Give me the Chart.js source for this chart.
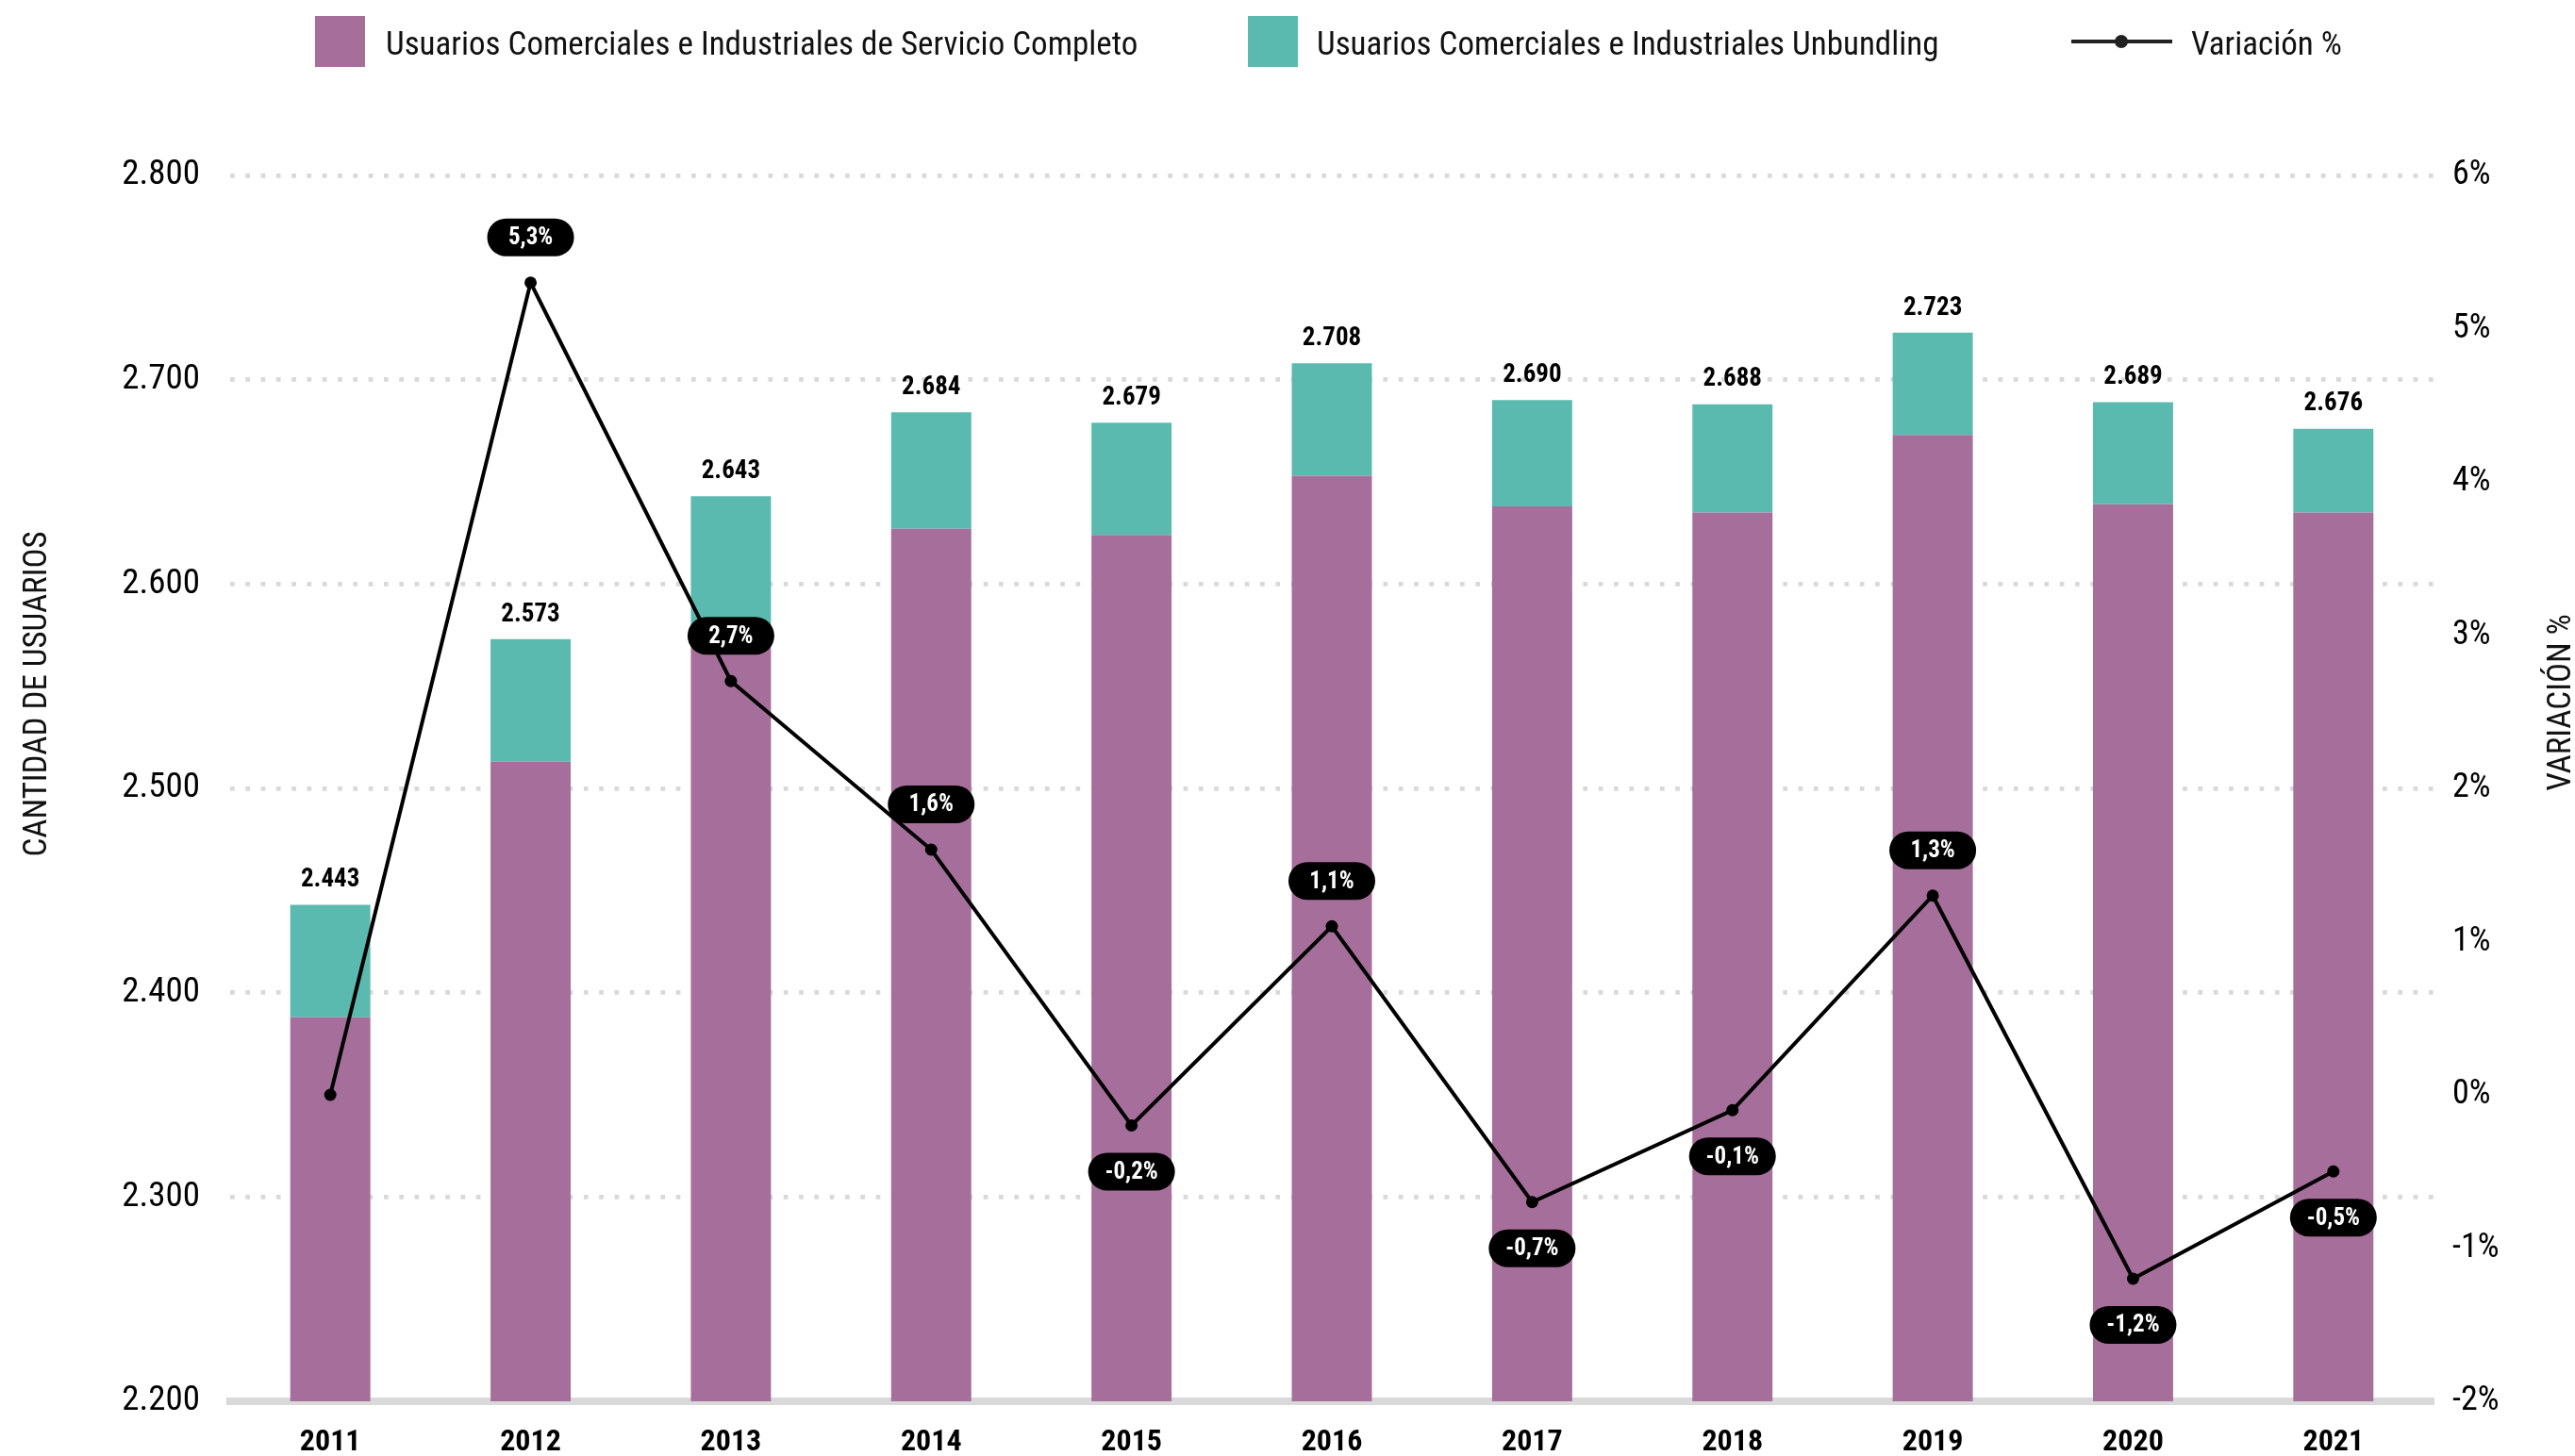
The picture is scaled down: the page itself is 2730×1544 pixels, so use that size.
<!DOCTYPE html>
<html lang="es">
<head>
<meta charset="utf-8">
<title>Usuarios comerciales e industriales</title>
<script src="https://cdn.jsdelivr.net/npm/chart.js@4.4.1/dist/chart.umd.min.js"></script>
<style>
  html, body { margin: 0; padding: 0; background: #fff; }
  #chart { display: block; }
</style>
</head>
<body>
<canvas id="chart" width="2730" height="1544"></canvas>
<script>
// datos
var years = ['2011', '2012', '2013', '2014', '2015', '2016', '2017', '2018', '2019', '2020', '2021'];
var servicioCompleto = [2388, 2513, 2580, 2627, 2624, 2653, 2638, 2635, 2673, 2639, 2635];
var unbundling       = [55, 60, 63, 57, 55, 55, 52, 53, 50, 50, 41];
var variacion        = [0, 5.3, 2.7, 1.6, -0.2, 1.1, -0.7, -0.1, 1.3, -1.2, -0.5];
var usuariosTicks    = [2200, 2300, 2400, 2500, 2600, 2700, 2800];
var variacionTicks   = [-2, -1, 0, 1, 2, 3, 4, 5, 6];

var PURPLE = '#a66f9b';
var TEAL   = '#5bbab0';
var GRID   = '#d9d9d9';
var FONT   = "'Roboto Condensed', 'Liberation Sans Narrow', Roboto, sans-serif";

function miles(v) {
    return String(v).replace(/\B(?=(\d{3})+(?!\d))/g, '.');
}
function pct(v) {
    return v.toFixed(1).replace('.', ',') + '%';
}

// etiquetas: totales sobre las barras y pastillas negras en la linea
var etiquetas = {
    id: 'etiquetas',
    afterDatasetsDraw: function (chart) {
        var ctx = chart.ctx;
        var top = chart.getDatasetMeta(2);
        var line = chart.getDatasetMeta(0);

        ctx.save();
        ctx.textAlign = 'center';
        ctx.textBaseline = 'middle';
        ctx.fillStyle = '#000';
        ctx.font = 'bold 27px ' + FONT;
        top.data.forEach(function (bar, i) {
            ctx.fillText(miles(servicioCompleto[i] + unbundling[i]), bar.x, bar.y - 26);
        });

        ctx.font = 'bold 25px ' + FONT;
        line.data.forEach(function (pt, i) {
            var v = variacion[i];
            if (v === 0) return;
            var cy = pt.y + (v > 0 ? -48 : 49);
            var w = 92, h = 40;
            ctx.fillStyle = '#000';
            ctx.beginPath();
            ctx.roundRect(pt.x - w / 2, cy - h / 2, w, h, h / 2);
            ctx.fill();
            ctx.fillStyle = '#fff';
            ctx.fillText(pct(v), pt.x, cy + 1);
        });
        ctx.restore();
    }
};

// leyenda y titulos de ejes
var marco = {
    id: 'marco',
    afterDraw: function (chart) {
        var ctx = chart.ctx;
        ctx.save();
        ctx.textBaseline = 'middle';
        ctx.textAlign = 'left';
        ctx.font = '35px ' + FONT;

        ctx.fillStyle = PURPLE;
        ctx.fillRect(334, 17, 53, 54);
        ctx.fillStyle = '#111';
        ctx.fillText('Usuarios Comerciales e Industriales de Servicio Completo', 409, 49);

        ctx.fillStyle = TEAL;
        ctx.fillRect(1323, 17, 53, 54);
        ctx.fillStyle = '#111';
        ctx.fillText('Usuarios Comerciales e Industriales Unbundling', 1396, 49);

        ctx.strokeStyle = '#222';
        ctx.lineWidth = 4;
        ctx.beginPath();
        ctx.moveTo(2196, 44);
        ctx.lineTo(2303, 44);
        ctx.stroke();
        ctx.fillStyle = '#222';
        ctx.beginPath();
        ctx.arc(2249, 44, 7, 0, Math.PI * 2);
        ctx.fill();
        ctx.fillStyle = '#111';
        ctx.fillText('Variación %', 2323, 49);

        ctx.textAlign = 'center';
        ctx.font = '35px ' + FONT;
        ctx.translate(40, 736);
        ctx.rotate(-Math.PI / 2);
        ctx.fillText('CANTIDAD DE USUARIOS', 0, 0);
        ctx.rotate(Math.PI / 2);
        ctx.translate(2716 - 40, 745 - 736);
        ctx.rotate(-Math.PI / 2);
        ctx.fillText('VARIACIÓN %', 0, 0);
        ctx.restore();
    }
};

new Chart(document.getElementById('chart'), {
    type: 'bar',
    data: {
        labels: years,
        datasets: [
            {
                type: 'line',
                label: 'Variación %',
                data: variacion,
                yAxisID: 'y1',
                borderColor: '#000',
                backgroundColor: '#000',
                borderWidth: 4,
                pointRadius: 6.5,
                pointBorderWidth: 0,
                tension: 0,
                fill: false
            },
            {
                label: 'Usuarios Comerciales e Industriales de Servicio Completo',
                data: servicioCompleto,
                yAxisID: 'y',
                backgroundColor: PURPLE,
                categoryPercentage: 1,
                barPercentage: 0.4
            },
            {
                label: 'Usuarios Comerciales e Industriales Unbundling',
                data: unbundling,
                yAxisID: 'y',
                backgroundColor: TEAL,
                categoryPercentage: 1,
                barPercentage: 0.4
            }
        ]
    },
    options: {
        responsive: false,
        devicePixelRatio: 1,
        animation: false,
        layout: { padding: { top: 186, left: 0, right: 0, bottom: 0 } },
        plugins: {
            legend: { display: false },
            tooltip: { enabled: false }
        },
        scales: {
            x: {
                stacked: true,
                grid: { display: false, drawTicks: false },
                border: { display: true, color: GRID, width: 8 },
                ticks: {
                    color: '#000',
                    padding: 25,
                    font: { family: FONT, size: 32, weight: 'bold' }
                },
                afterFit: function (s) { s.height = 58; }
            },
            y: {
                stacked: true,
                position: 'left',
                min: usuariosTicks[0],
                max: usuariosTicks[usuariosTicks.length - 1],
                afterBuildTicks: function (s) {
                    s.ticks = usuariosTicks.map(function (v) { return { value: v }; });
                },
                grid: {
                    drawTicks: false,
                    lineWidth: 4.7,
                    color: function (c) { return c.tick && c.tick.value === 2200 ? 'rgba(0,0,0,0)' : GRID; }
                },
                border: { display: false, dash: [4.7, 11.6] },
                ticks: {
                    color: '#000',
                    padding: 32,
                    font: { family: FONT, size: 37 },
                    callback: function (v) { return miles(v); }
                },
                afterFit: function (s) { s.width = 244; }
            },
            y1: {
                position: 'right',
                min: variacionTicks[0],
                max: variacionTicks[variacionTicks.length - 1],
                afterBuildTicks: function (s) {
                    s.ticks = variacionTicks.map(function (v) { return { value: v }; });
                },
                grid: { drawOnChartArea: false, drawTicks: false },
                border: { display: false },
                ticks: {
                    color: '#000',
                    padding: 20,
                    font: { family: FONT, size: 36 },
                    callback: function (v) { return v + '%'; }
                },
                afterFit: function (s) { s.width = 150; }
            }
        }
    },
    plugins: [etiquetas, marco]
});
</script>
</body>
</html>
